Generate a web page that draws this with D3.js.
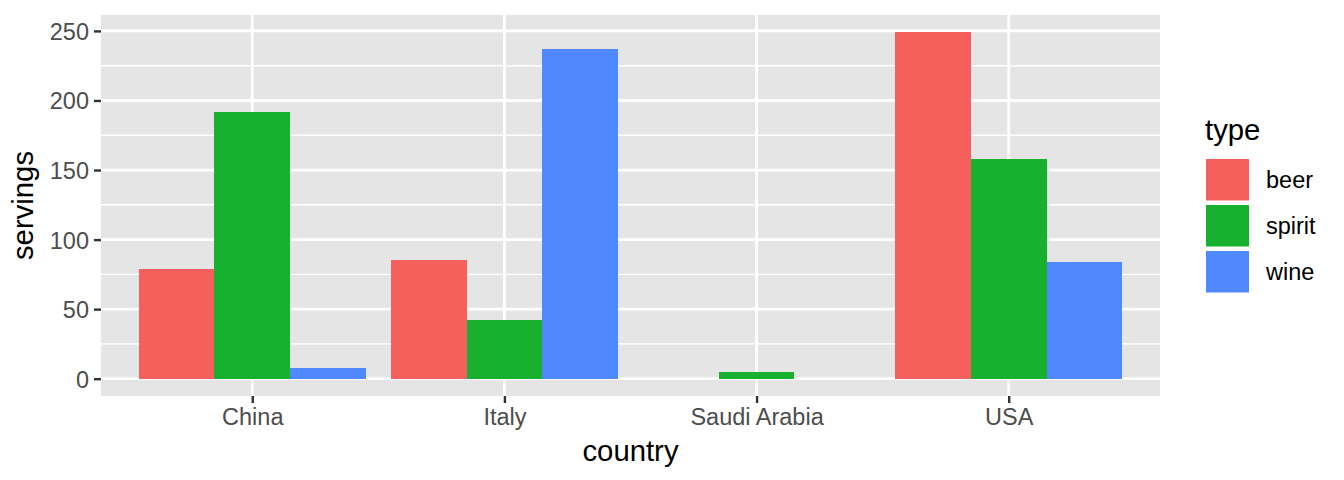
<!DOCTYPE html>
<html><head><meta charset="utf-8">
<script src="https://cdn.jsdelivr.net/npm/d3@7"></script>
<style>body{margin:0;background:#fff}svg{display:block}text{font-family:"Liberation Sans",Arial,Helvetica,sans-serif}</style>
</head><body>
<svg id="c" width="1344" height="480"></svg>
<script>
const countries = ["China", "Italy", "Saudi Arabia", "USA"];
const types = ["beer", "spirit", "wine"];
const beer = [79, 85, 0, 249];
const spirit = [192, 42, 5, 158];
const wine = [8, 237, 0, 84];
const yTicks = [0, 50, 100, 150, 200, 250];
const yMinor = [25, 75, 125, 175, 225];
const colors = ["#F5605C", "#17B12F", "#4F88FF"];

const seriesVals = {beer, spirit, wine};
const data = [];
countries.forEach((c, i) => types.forEach(t => data.push({country: c, type: t, value: seriesVals[t][i]})));

const L = 101, R = 1160, T = 15, B = 396;
const svg = d3.select("#c");
const maxV = d3.max(data, d => d.value);
const pad = maxV * 0.05;
const y = d3.scaleLinear().domain([-pad, maxV + pad]).range([B, T]);
const unit = (R - L) / (countries.length - 1 + 1.2);
const xc = d3.scalePoint().domain(countries).range([L + 0.6 * unit, R - 0.6 * unit]);
const inner = d3.scaleBand().domain(types).range([-0.45 * unit, 0.45 * unit]).padding(0);
const color = d3.scaleOrdinal().domain(types).range(colors);

svg.append("rect").attr("x", L).attr("y", T).attr("width", R - L).attr("height", B - T).attr("fill", "#E5E5E5");
const g = svg.append("g");
g.selectAll(".minor").data(yMinor).join("line")
  .attr("x1", L).attr("x2", R).attr("y1", d => y(d)).attr("y2", d => y(d))
  .attr("stroke", "#fff").attr("stroke-width", 1.4);
g.selectAll(".major").data(yTicks).join("line")
  .attr("x1", L).attr("x2", R).attr("y1", d => y(d)).attr("y2", d => y(d))
  .attr("stroke", "#fff").attr("stroke-width", 2.8);
g.selectAll(".vmajor").data(countries).join("line")
  .attr("x1", d => xc(d)).attr("x2", d => xc(d)).attr("y1", T).attr("y2", B)
  .attr("stroke", "#fff").attr("stroke-width", 2.8);

svg.append("g").attr("shape-rendering", "crispEdges").selectAll("rect").data(data).join("rect")
  .attr("x", d => xc(d.country) + inner(d.type))
  .attr("width", inner.bandwidth())
  .attr("y", d => Math.min(y(d.value), y(0)))
  .attr("height", d => Math.abs(y(0) - y(d.value)))
  .attr("fill", d => color(d.type));

// axes
const yAxis = svg.append("g").attr("transform", `translate(${L},0)`)
  .call(d3.axisLeft(y).tickValues(yTicks).tickSize(7).tickPadding(5));
const xAxis = svg.append("g").attr("transform", `translate(0,${B})`)
  .call(d3.axisBottom(xc).tickSize(7).tickPadding(5));
[yAxis, xAxis].forEach(a => {
  a.select(".domain").remove();
  a.selectAll(".tick line").attr("stroke", "#333").attr("stroke-width", 2.4);
  a.selectAll(".tick text").attr("fill", "#4D4D4D").attr("font-size", 23.5)
   .attr("font-family", '"Liberation Sans",Arial,sans-serif');
});
yAxis.selectAll(".tick text").attr("dy", "0.36em");
xAxis.selectAll(".tick text").attr("dy", "0.71em");

svg.append("text").attr("x", (L + R) / 2).attr("y", 461).attr("text-anchor", "middle")
  .attr("font-size", 29.3).attr("fill", "#000").text("country");
svg.append("text").attr("transform", `translate(33,${(T + B) / 2}) rotate(-90)`).attr("text-anchor", "middle")
  .attr("font-size", 29.3).attr("fill", "#000").text("servings");

// legend
const lg = svg.append("g");
lg.append("text").attr("x", 1205).attr("y", 140).attr("font-size", 29.3).attr("fill", "#000").text("type");
const keyH = 41.5, keyW = 43, gap = 46, ky0 = 159;
const item = lg.selectAll(".item").data(types).join("g").attr("transform", (d, i) => `translate(1206,${ky0 + i * gap})`);
item.append("rect").attr("width", keyW).attr("height", keyH).attr("fill", d => color(d));
item.append("text").attr("x", 60).attr("y", keyH / 2).attr("dy", "0.36em").attr("font-size", 23.5).attr("fill", "#000").text(d => d);
</script>
</body></html>
